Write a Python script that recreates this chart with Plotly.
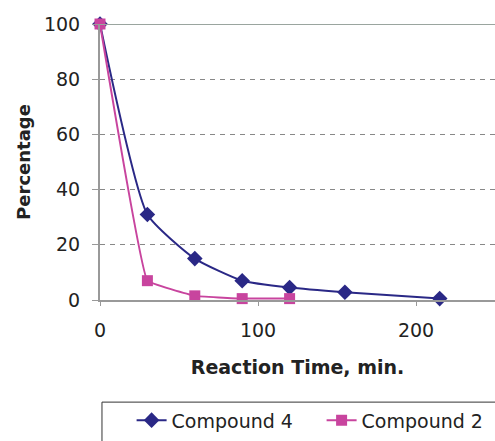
import plotly.graph_objects as go

time_c4 = [0, 30, 60, 90, 120, 155, 215]
pct_c4 = [100, 31, 15, 7, 4.5, 2.8, 0.5]
time_c2 = [0, 30, 60, 90, 120]
pct_c2 = [100, 7, 1.5, 0.5, 0.5]

x_ticks = [0, 100, 200]
y_ticks = [0, 20, 40, 60, 80, 100]

NAVY = "#2A2886"
PINK = "#C8449E"
FONT = "DejaVu Sans, sans-serif"

fig = go.Figure()
fig.add_trace(go.Scatter(
    x=time_c4, y=pct_c4, name="Compound 4", mode="lines+markers",
    line=dict(color=NAVY, width=2, shape="spline", smoothing=0.5),
    marker=dict(symbol="diamond", size=12, color=NAVY),
    cliponaxis=False,
))
fig.add_trace(go.Scatter(
    x=time_c2, y=pct_c2, name="Compound 2", mode="lines+markers",
    line=dict(color=PINK, width=2, shape="spline", smoothing=0.2),
    marker=dict(symbol="square", size=11, color=PINK),
    cliponaxis=False,
))

fig.update_layout(
    width=495, height=441,
    margin=dict(l=100, r=0, t=24, b=141, autoexpand=False),
    paper_bgcolor="white", plot_bgcolor="white",
    font=dict(family=FONT, size=19, color="#222"),
    showlegend=True,
    legend=dict(
        orientation="h", x=0.08, y=-0.367, xanchor="left", yanchor="top",
        borderwidth=0, font=dict(family=FONT, size=19, color="#222"),
        entrywidth=145, entrywidthmode="pixels", tracegroupgap=0,
        bgcolor="rgba(0,0,0,0)",
    ),
    xaxis=dict(
        range=[0, 250], tickvals=x_ticks, showgrid=False, zeroline=False,
        showline=True, linecolor="#999", linewidth=2,
        ticks="outside", ticklen=4, tickcolor="#999", ticklabelstandoff=8,
        title=dict(text="<b>Reaction Time, min.</b>", font=dict(family=FONT, size=19, color="#222"), standoff=21),
    ),
    yaxis=dict(
        range=[0, 100], tickvals=y_ticks, zeroline=False,
        showgrid=True, gridcolor="#888", griddash="5px,5px", gridwidth=1,
        showline=True, linecolor="#999", linewidth=2,
        ticks="outside", ticklen=6, tickcolor="#999", ticklabelstandoff=8,
        title=dict(text="<b>Percentage</b>", font=dict(family=FONT, size=18, color="#222"), standoff=9),
    ),
)
fig.add_shape(type="line", xref="paper", yref="y", x0=0, x1=1, y0=100, y1=100,
              line=dict(color="#9AA59F", width=2))
fig.add_shape(type="rect", xref="paper", yref="paper",
              x0=0.005, x1=1.05, y0=-0.37, y1=-0.6,
              line=dict(color="#333", width=1), layer="above")

fig.write_html("out.html")
